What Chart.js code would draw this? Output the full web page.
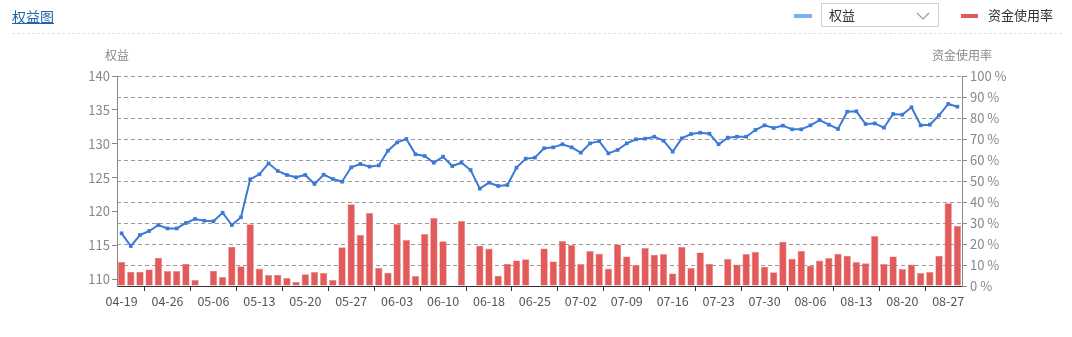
<!DOCTYPE html>
<html>
<head>
<meta charset="utf-8">
<script src="https://cdn.jsdelivr.net/npm/chart.js@4/dist/chart.umd.min.js"></script>
<style>
  html, body { margin: 0; padding: 0; background: #fff; }
  body { width: 1072px; height: 337px; position: relative; overflow: hidden; font-family: 'Noto Sans CJK SC', 'Noto Sans', sans-serif; }
  #wrap { position: absolute; left: 0; top: 0; width: 1072px; height: 337px; }
  .hdr { position: absolute; }
  #title { left: 12px; top: 6px; font-size: 14px; color: #1f63ad; text-decoration: underline; line-height: 20px; }
  #sep { left: 12px; top: 33px; width: 1050px; height: 0; border-top: 1px dashed #e3e3e3; }
  #legBlue { left: 794px; top: 14px; width: 18px; height: 4px; background: #79b1f2; }
  #sel { left: 821px; top: 3px; width: 118px; height: 24px; border: 1px solid #d0d0d0; box-sizing: border-box; font-size: 13px; color: #333; line-height: 22px; padding-left: 7px; }
  #sel svg { position: absolute; right: 8px; top: 8px; }
  #legRed { left: 961px; top: 14px; width: 17px; height: 4px; background: #e05a5a; }
  #legRedTxt { left: 988px; top: 5px; font-size: 13px; color: #333; line-height: 20px; }
</style>
</head>
<body>
<div id="wrap"><canvas id="c" width="1072" height="337"></canvas></div>
<div class="hdr" id="title">权益图</div>
<div class="hdr" id="sep"></div>
<div class="hdr" id="legBlue"></div>
<div class="hdr" id="sel">权益<svg width="14" height="8" viewBox="0 0 14 8"><polyline points="1,1 7,7 13,1" fill="none" stroke="#999" stroke-width="1.2"/></svg></div>
<div class="hdr" id="legRed"></div>
<div class="hdr" id="legRedTxt">资金使用率</div>
<script>
const categories = ['04-19','04-22','04-23','04-24','04-25','04-26','04-28','04-29','04-30','05-05',
  '05-06','05-07','05-08','05-09','05-10','05-13','05-14','05-15','05-16','05-17',
  '05-20','05-21','05-22','05-23','05-24','05-27','05-28','05-29','05-30','05-31',
  '06-03','06-04','06-05','06-06','06-07','06-10','06-11','06-12','06-13','06-14',
  '06-18','06-19','06-20','06-21','06-24','06-25','06-26','06-27','06-28','07-01',
  '07-02','07-03','07-04','07-05','07-08','07-09','07-10','07-11','07-12','07-15',
  '07-16','07-17','07-18','07-19','07-22','07-23','07-24','07-25','07-26','07-29',
  '07-30','07-31','08-01','08-02','08-05','08-06','08-07','08-08','08-09','08-12',
  '08-13','08-14','08-15','08-16','08-19','08-20','08-21','08-22','08-23','08-26',
  '08-27','08-28'];

const equity = [116.78,114.9,116.53,117.12,118.0,117.5,117.5,118.3,118.9,118.64,
  118.55,119.82,118.0,119.14,124.75,125.49,127.11,125.98,125.39,125.04,
  125.39,124.06,125.43,124.8,124.4,126.52,127.01,126.62,126.8,128.97,
  130.2,130.7,128.44,128.19,127.2,128.09,126.71,127.2,126.12,123.37,
  124.25,123.76,123.91,126.47,127.8,127.95,129.33,129.47,129.92,129.47,
  128.68,130.06,130.4,128.58,129.08,130.06,130.65,130.75,131.04,130.45,
  128.83,130.8,131.44,131.63,131.49,129.92,130.9,131.04,131.04,132.03,
  132.72,132.32,132.67,132.13,132.13,132.72,133.5,132.81,132.18,134.73,
  134.79,132.91,133.0,132.37,134.39,134.29,135.38,132.72,132.81,134.2,
  135.87,135.47];

const usage = [11.5,6.8,6.8,7.9,13.5,7.1,7.1,10.6,2.9,0,
  7.3,4.3,18.7,9.4,29.4,8.3,5.2,5.4,3.8,1.9,
  5.6,6.7,6.2,2.9,18.4,38.9,24.3,34.8,8.6,6.3,
  29.5,21.9,4.8,24.8,32.4,21.3,0,31.0,0,19.2,
  17.8,4.9,10.6,12.2,12.7,0,17.9,11.7,21.4,19.5,
  10.5,16.7,15.4,8.3,19.8,14.1,10.0,18.1,14.9,15.2,
  6.0,18.6,8.6,16.0,10.6,0,12.9,10.2,15.2,16.2,
  9.2,6.5,21.1,13.0,16.7,9.7,12.1,13.3,15.4,14.4,
  11.4,10.8,23.8,10.5,14.1,8.1,10.2,6.2,6.7,14.4,
  39.4,28.6];

const equityTicks = [110, 115, 120, 125, 130, 135, 140];
const usageTicks = [0, 10, 20, 30, 40, 50, 60, 70, 80, 90, 100];
const labelEvery = 5;
const tickMarkOffset = 3;

Chart.defaults.font.family = "'Noto Sans CJK SC', 'Noto Sans', sans-serif";
Chart.defaults.font.size = 13;

const axisTitles = {
  id: 'axisTitles',
  afterDraw(chart) {
    const ctx = chart.ctx;
    const yl = chart.scales.yL, yr = chart.scales.yR;
    ctx.save();
    ctx.fillStyle = '#888';
    ctx.font = "12px 'Noto Sans CJK SC', sans-serif";
    ctx.textAlign = 'center';
    ctx.textBaseline = 'middle';
    ctx.fillText('权益', yl.right, chart.chartArea.top - 21);
    ctx.fillText('资金使用率', yr.left, chart.chartArea.top - 21);
    ctx.restore();
  }
};

new Chart(document.getElementById('c'), {
  data: {
    labels: categories,
    datasets: [
      {
        type: 'line',
        label: '权益',
        data: equity,
        yAxisID: 'yL',
        borderColor: '#3a79d8',
        backgroundColor: '#3a79d8',
        borderWidth: 2,
        pointRadius: 2.6,
        pointStyle: 'rect',
        pointBackgroundColor: '#3a79d8',
        pointBorderWidth: 0,
        tension: 0,
        order: 0
      },
      {
        type: 'bar',
        label: '资金使用率',
        data: usage,
        yAxisID: 'yR',
        backgroundColor: '#e25b5b',
        borderColor: '#ee8a8a',
        borderWidth: 0.6,
        barPercentage: 0.8,
        categoryPercentage: 1.0,
        order: 1
      }
    ]
  },
  options: {
    responsive: false,
    animation: false,
    layout: { padding: { top: 76, left: 0, right: 0, bottom: 0 } },
    plugins: { legend: { display: false }, tooltip: { enabled: false } },
    scales: {
      x: {
        type: 'category',
        offset: true,
        afterFit(s) { s.height = 51; },
        grid: {
          offset: true,
          drawOnChartArea: false,
          drawTicks: true,
          tickLength: 5,
          color: (c) => (c.index % labelEvery === tickMarkOffset) ? '#333' : 'rgba(0,0,0,0)',
          lineWidth: 1
        },
        border: { display: true, color: '#333', width: 1 },
        ticks: {
          autoSkip: false,
          maxRotation: 0,
          minRotation: 0,
          color: '#555',
          padding: 3,
          font: { size: 12.5 },
          callback: function(v, i) { return i % labelEvery === 0 ? categories[i] : ''; }
        }
      },
      yL: {
        type: 'linear',
        position: 'left',
        min: 109,
        max: 140,
        afterFit(s) { s.width = 117; },
        afterBuildTicks(s) { s.ticks = equityTicks.map(v => ({ value: v })); },
        grid: { drawOnChartArea: false, drawTicks: true, tickLength: 5, color: '#888' },
        border: { display: true, color: '#888', width: 1 },
        ticks: { color: '#888', padding: 2, font: { size: 13 } }
      },
      yR: {
        type: 'linear',
        position: 'right',
        min: 0,
        max: 100,
        afterFit(s) { s.width = 110; },
        afterBuildTicks(s) { s.ticks = usageTicks.map(v => ({ value: v })); },
        grid: { drawOnChartArea: true, drawTicks: true, tickLength: 5, color: '#9a9a9a', tickColor: '#888', tickBorderDash: [] },
        border: { display: true, color: '#888', width: 1, dash: [4, 3] },
        ticks: { color: '#888', padding: 3, font: { size: 13 }, callback: (v) => v + ' %' }
      }
    }
  },
  plugins: [axisTitles]
});
</script>
</body>
</html>
